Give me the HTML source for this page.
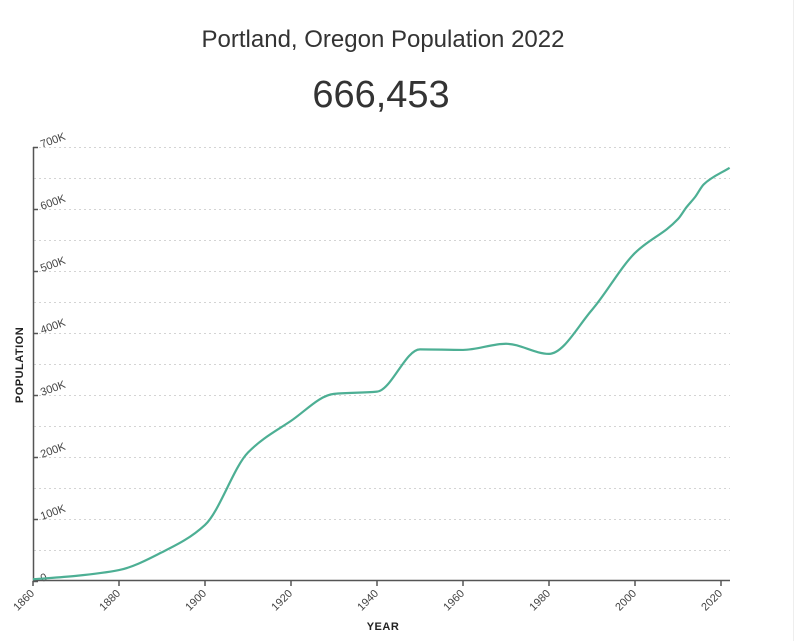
<!DOCTYPE html>
<html><head><meta charset="utf-8"><style>
body{margin:0;background:#fff;width:800px;height:641px;overflow:hidden;font-family:"Liberation Sans",sans-serif}
</style></head><body>
<svg width="800" height="641" xmlns="http://www.w3.org/2000/svg" style="position:absolute;left:0;top:0">
<line x1="793.5" y1="0" x2="793.5" y2="641" stroke="#eee"/>
<text x="383" y="47" text-anchor="middle" font-size="24" fill="#333">Portland, Oregon Population 2022</text>
<text x="381" y="107" text-anchor="middle" font-size="38" fill="#333">666,453</text>
<g id="grid" stroke="#d4d4d4" stroke-dasharray="2,3" stroke-width="1"></g>
<g id="ylab" font-size="11" fill="#444"></g>
<line x1="33.5" y1="147" x2="33.5" y2="581" stroke="#555" stroke-width="1.5"/>
<line x1="33" y1="580.5" x2="730" y2="580.5" stroke="#555" stroke-width="1.5"/>
<g id="xlab" font-size="11" fill="#444"></g>
<path id="line" fill="none" stroke="#4daf94" stroke-width="2.2"/>
<text x="383" y="630" text-anchor="middle" font-size="11" font-weight="bold" fill="#222" letter-spacing="0.5">YEAR</text>
<text transform="translate(23,365) rotate(-90)" text-anchor="middle" font-size="11" font-weight="bold" fill="#222" letter-spacing="0.5">POPULATION</text>
</svg>
<script>
const NS="http://www.w3.org/2000/svg";
function el(p,t,a,txt){const e=document.createElementNS(NS,t);for(const k in a)e.setAttribute(k,a[k]);if(txt!=null)e.textContent=txt;document.getElementById(p).appendChild(e);}
const X=y=>33+(y-1860)*4.3, Y=v=>581-v*0.00062;
for(let v=50000;v<=700000;v+=50000){const y=Y(v)+0.5;el("grid","line",{x1:34,x2:730,y1:y,y2:y});}
for(let v=0;v<=700000;v+=100000){const y=Y(v);el("ylab","line",{x1:33,x2:38,y1:y+0.5,y2:y+0.5,stroke:"#555","stroke-width":1.5});
el("ylab","text",{transform:`translate(42,${y+1}) rotate(-20)`},v==0?"0":(v/1000)+"K");}
for(let yr=1860;yr<=2020;yr+=20){const x=X(yr);el("xlab","line",{x1:x,x2:x,y1:581,y2:586,stroke:"#555","stroke-width":1.5});
el("xlab","text",{transform:`translate(${x+2},${594}) rotate(-45)`,"text-anchor":"end"},yr);}
const d=[[1860,2874],[1870,8293],[1880,17577],[1890,46385],[1900,90426],[1910,207214],[1920,258288],[1930,301815],[1940,305394],[1950,373628],[1960,372676],[1970,382619],[1980,366383],[1990,437319],[2000,529121],[2010,583776],[2012,603106],[2014,619540],[2016,639863],[2022,666453]].map(p=>[X(p[0]),Y(p[1])]);
const n=d.length,m=[],s=[];
for(let i=0;i<n-1;i++)s.push((d[i+1][1]-d[i][1])/(d[i+1][0]-d[i][0]));
m[0]=s[0];m[n-1]=s[n-2];
for(let i=1;i<n-1;i++){if(s[i-1]*s[i]<=0)m[i]=0;else{const h0=d[i][0]-d[i-1][0],h1=d[i+1][0]-d[i][0];m[i]=(3*(h0+h1))/((2*h1+h0)/s[i-1]+(h1+2*h0)/s[i]);}}
let p=`M${d[0][0]},${d[0][1]}`;
for(let i=0;i<n-1;i++){const h=(d[i+1][0]-d[i][0])/3;p+=`C${d[i][0]+h},${d[i][1]+m[i]*h} ${d[i+1][0]-h},${d[i+1][1]-m[i+1]*h} ${d[i+1][0]},${d[i+1][1]}`;}
document.getElementById("line").setAttribute("d",p);
</script>
</body></html>
